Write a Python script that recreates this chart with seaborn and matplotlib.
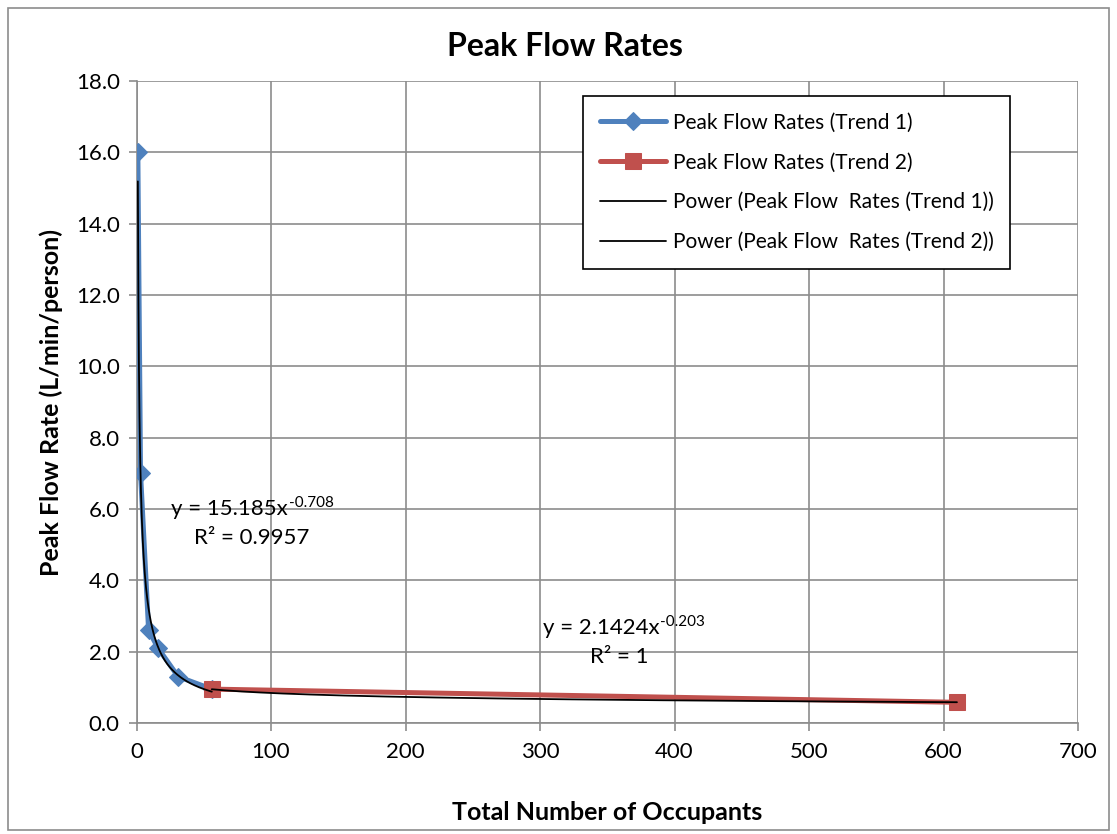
import numpy as np
import pandas as pd
import matplotlib
matplotlib.use("Agg")
import matplotlib.pyplot as plt
from matplotlib.patches import Rectangle
import seaborn as sns

# ---- data ----
trend1_occupants = [1, 3, 9, 16, 31, 56]
trend1_rates = [16.0, 7.0, 2.6, 2.1, 1.3, 0.95]
trend2_occupants = [56, 610]
trend2_rates = [0.95, 0.58]

# power trendline coefficients (y = a * x^b), as printed on the chart
fit1_a, fit1_b = 15.185, -0.708
fit2_a, fit2_b = 2.1424, -0.203
fit1_label = ["y = 15.185x", "-0.708", "R² = 0.9957"]
fit2_label = ["y = 2.1424x", "-0.203", "R² = 1"]

x_ticks = [0, 100, 200, 300, 400, 500, 600, 700]
y_ticks = [0, 2, 4, 6, 8, 10, 12, 14, 16, 18]

sns.set_theme(style="whitegrid")
plt.rcParams['font.family'] = ['Lato', 'DejaVu Sans']
plt.rcParams['text.color'] = 'black'
plt.rcParams['axes.labelcolor'] = 'black'

W, H = 1117, 834
fig = plt.figure(figsize=(W / 100, H / 100), dpi=100)
ax = fig.add_axes([136.5 / W, 1 - 723 / H, (1078 - 136.5) / W, (723 - 81) / H])

blue = "#4F81BD"
red = "#C0504D"

df1 = pd.DataFrame({"x": trend1_occupants, "y": trend1_rates})
df2 = pd.DataFrame({"x": trend2_occupants, "y": trend2_rates})

sns.lineplot(data=df1, x="x", y="y", ax=ax, color=blue, lw=3.6, marker="D",
             markersize=9, markeredgecolor=blue, label="Peak Flow Rates (Trend 1)",
             zorder=3)
sns.lineplot(data=df2, x="x", y="y", ax=ax, color=red, lw=3.6, marker="s",
             markersize=11, markeredgecolor=red, label="Peak Flow Rates (Trend 2)",
             zorder=3)

# power trendlines over each series' range
tx1 = np.linspace(min(trend1_occupants), max(trend1_occupants), 400)
tx2 = np.linspace(min(trend2_occupants), max(trend2_occupants), 400)
sns.lineplot(x=tx1, y=fit1_a * tx1 ** fit1_b, ax=ax, color="black", lw=1.3,
             label="Power (Peak Flow  Rates (Trend 1))", zorder=4)
sns.lineplot(x=tx2, y=fit2_a * tx2 ** fit2_b, ax=ax, color="black", lw=1.3,
             label="Power (Peak Flow  Rates (Trend 2))", zorder=4)

ax.set_xlim(0, 700)
ax.set_ylim(0, 18)
ax.set_xticks(x_ticks)
ax.set_yticks(y_ticks)
ax.set_xticklabels([str(v) for v in x_ticks], fontsize=16)
ax.set_yticklabels([f"{v:.1f}" for v in y_ticks], fontsize=16)
ax.tick_params(axis="both", which="both", length=6, width=1.2, color="#8c8c8c",
               direction="out", labelcolor="black", bottom=True, left=True)
ax.tick_params(axis="x", pad=8)
ax.tick_params(axis="y", pad=6)
ax.grid(True, color="#8c8c8c", lw=1.2)
for side in ["top", "right"]:
    ax.spines[side].set_visible(False)
for side in ["left", "bottom"]:
    ax.spines[side].set_color("#8c8c8c")
    ax.spines[side].set_linewidth(1.2)
ax.set_facecolor("white")

ax.set_xlabel("Total Number of Occupants", fontsize=18, fontweight="bold", labelpad=28)
ax.set_ylabel("Peak Flow Rate (L/min/person)", fontsize=18, fontweight="bold", labelpad=9)
fig.text(565 / W, 1 - 47 / H, "Peak Flow Rates", fontsize=23, fontweight="bold",
         ha="center", va="center", color="black")

# trendline equations (base text + superscript exponent)
def equation(x, y, base, expo, rline, rx):
    t = ax.text(x, y, base, fontsize=16, ha="left", va="center")
    fig.canvas.draw()
    bb = t.get_window_extent(renderer=fig.canvas.get_renderer())
    ex = ax.transData.inverted().transform((bb.x1 + 1, bb.y1 - 4))
    ax.text(ex[0], ex[1], expo, fontsize=11, ha="left", va="center")
    ax.text(rx, y - 0.8, rline, fontsize=16, ha="left", va="center")

equation(26, 6.0, fit1_label[0], fit1_label[1], fit1_label[2], 43)
equation(302, 2.65, fit2_label[0], fit2_label[1], fit2_label[2], 337)

leg = ax.legend(loc="upper left", bbox_to_anchor=((583 - 136.5) / (1078 - 136.5),
                (723 - 96) / (723 - 81)), fontsize=15, frameon=True, fancybox=False,
                edgecolor="black", framealpha=1, handlelength=3.2, handletextpad=0.3,
                labelspacing=0.95, borderpad=0.8, borderaxespad=0)
leg.get_frame().set_linewidth(1.2)
for txt in leg.get_texts():
    txt.set_color("black")

fig.patches.append(Rectangle((8 / W, 4 / H), (1109 - 8) / W, (826 - 4) / H,
                             transform=fig.transFigure, fill=False,
                             edgecolor="#8c8c8c", lw=1.2))

fig.savefig("out.png", dpi=100, facecolor="white")
